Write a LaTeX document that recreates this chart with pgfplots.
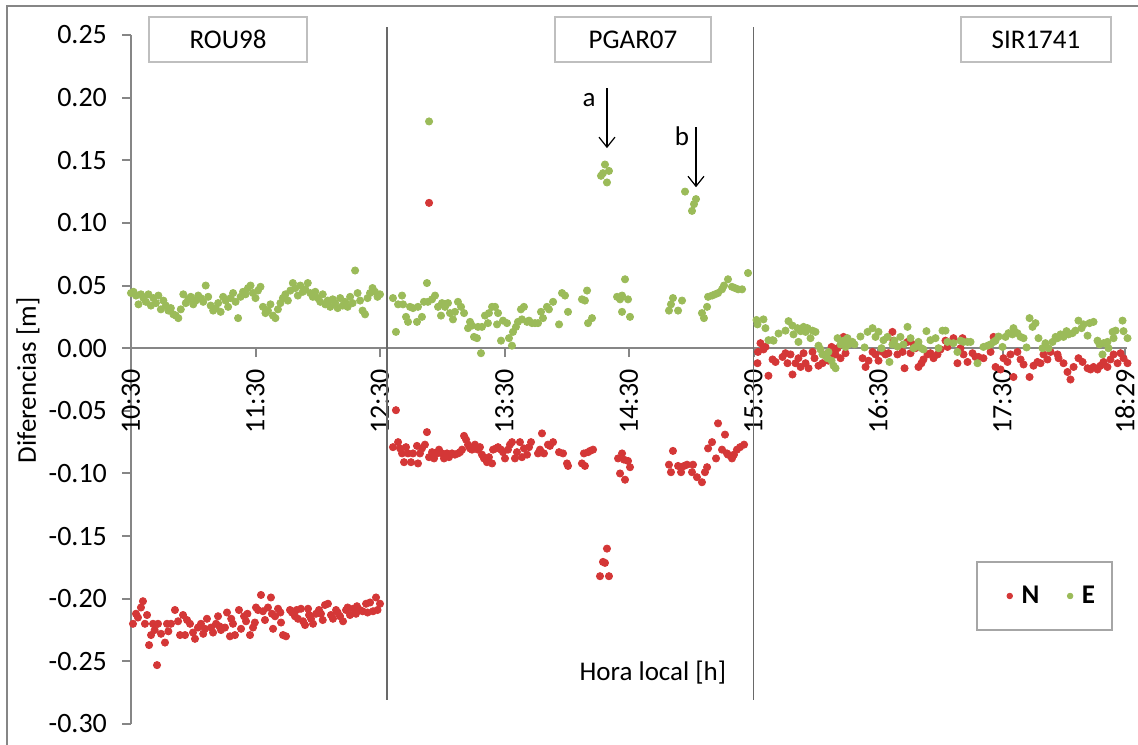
\documentclass[border=0pt]{standalone}
\usepackage{pgfplots}
\pgfplotsset{compat=1.18}
\usepackage{fontspec}
\setmainfont{Carlito}
\usetikzlibrary{arrows.meta}
\definecolor{nred}{RGB}{212,55,55}
\definecolor{egreen}{RGB}{155,187,89}
\definecolor{axgray}{RGB}{134,134,134}
\definecolor{boxgray}{RGB}{191,191,191}
\definecolor{sepgray}{RGB}{105,105,105}
\definecolor{leggray}{RGB}{166,166,166}
\begin{document}
\begin{tikzpicture}
\useasboundingbox (0,0) rectangle (569pt,372pt);
\draw[axgray, line width=0.9pt] (3.5pt,-5pt) rectangle (580pt,369pt);
\begin{axis}[
  at={(65.5pt,10pt)}, anchor=south west,
  scale only axis, width=498pt, height=344.5pt,
  xmin=10.5, xmax=18.5, ymin=-0.30, ymax=0.25,
  axis x line=middle, axis y line=left,
  hide obscured x ticks=false, hide obscured y ticks=false,
  axis line style={draw=axgray, line width=1pt, -},
  every tick/.style={axgray, line width=1pt},
  tick align=outside, major tick length=4.5pt,
  xtick={10.5,11.5,12.5,13.5,14.5,15.5,16.5,17.5,18.4833},
  xticklabels={10:30,11:30,12:30,13:30,14:30,15:30,16:30,17:30,18:29},
  ytick={-0.30,-0.25,-0.20,-0.15,-0.10,-0.05,0,0.05,0.10,0.15,0.20,0.25},
  yticklabels={-0.30,-0.25,-0.20,-0.15,-0.10,-0.05,0.00,0.05,0.10,0.15,0.20,0.25},
  ticklabel style={font=\fontsize{14pt}{16pt}\selectfont, text=black},
  xticklabel style={rotate=90, anchor=east, inner ysep=1pt},
  xticklabel shift=2.5pt,
  yticklabel style={xshift=-4pt},
  clip=false,
  ylabel={Diferencias [m]},
  every axis y label/.style={at={(axis description cs:-0.1034,0.499)}, anchor=center, rotate=90, font=\fontsize{13.5pt}{16pt}\selectfont},
  xlabel={Hora local [h]},
  every axis x label/.style={at={(axis description cs:0.524,0.074)}, anchor=center, font=\fontsize{13.5pt}{16pt}\selectfont},
  legend columns=-1,
  legend style={draw=none, fill=none, at={(axis description cs:0.9257,0.1858)}, anchor=center,
    font=\bfseries\fontsize{13.5pt}{16pt}\selectfont,
    /tikz/every odd column/.append style={column sep=2.5pt},
    /tikz/every even column/.append style={column sep=12pt}},
  legend image code/.code={\draw[#1, mark size=1.4pt] plot coordinates {(0pt,0pt)};},
]
% ---------------- N (red) ----------------
\addplot[only marks, mark=*, mark size=1.8pt, color=nred, draw=nred, fill=nred] table {
10.516 -0.220
10.540 -0.212
10.556 -0.215
10.580 -0.207
10.596 -0.202
10.612 -0.220
10.629 -0.213
10.645 -0.237
10.661 -0.229
10.677 -0.220
10.690 -0.225
10.709 -0.253
10.717 -0.220
10.741 -0.228
10.773 -0.235
10.789 -0.220
10.800 -0.226
10.821 -0.220
10.853 -0.209
10.878 -0.218
10.894 -0.229
10.918 -0.213
10.934 -0.229
10.950 -0.217
10.974 -0.220
10.998 -0.227
11.014 -0.232
11.038 -0.223
11.062 -0.220
11.080 -0.228
11.094 -0.224
11.110 -0.216
11.143 -0.223
11.159 -0.227
11.183 -0.220
11.199 -0.214
11.210 -0.222
11.223 -0.225
11.255 -0.223
11.271 -0.211
11.295 -0.230
11.305 -0.216
11.319 -0.220
11.335 -0.229
11.367 -0.209
11.384 -0.224
11.408 -0.214
11.424 -0.218
11.435 -0.212
11.456 -0.229
11.480 -0.223
11.495 -0.219
11.504 -0.207
11.520 -0.209
11.544 -0.197
11.560 -0.210
11.576 -0.217
11.600 -0.207
11.624 -0.199
11.632 -0.212
11.641 -0.224
11.657 -0.214
11.681 -0.208
11.700 -0.211
11.705 -0.219
11.721 -0.229
11.745 -0.230
11.777 -0.209
11.793 -0.211
11.817 -0.214
11.830 -0.209
11.841 -0.216
11.865 -0.208
11.882 -0.218
11.898 -0.221
11.922 -0.208
11.930 -0.213
11.946 -0.216
11.962 -0.220
11.986 -0.212
12.010 -0.209
12.026 -0.212
12.040 -0.217
12.058 -0.205
12.082 -0.204
12.106 -0.213
12.122 -0.216
12.147 -0.209
12.160 -0.211
12.179 -0.214
12.203 -0.218
12.227 -0.209
12.240 -0.207
12.259 -0.213
12.283 -0.208
12.307 -0.212
12.315 -0.206
12.339 -0.209
12.360 -0.210
12.388 -0.204
12.400 -0.211
12.420 -0.203
12.444 -0.210
12.468 -0.199
12.480 -0.209
12.500 -0.204
};
\addlegendentry{N}
\addplot[only marks, mark=*, mark size=1.8pt, color=nred, draw=nred, fill=nred, forget plot] table {
12.604 -0.079
12.628 -0.0495
12.645 -0.075
12.661 -0.080
12.677 -0.084
12.693 -0.091
12.709 -0.079
12.725 -0.084
12.749 -0.091
12.765 -0.084
12.797 -0.078
12.805 -0.092
12.821 -0.084
12.837 -0.080
12.861 -0.077
12.877 -0.067
12.894 0.116
12.894 -0.087
12.918 -0.083
12.934 -0.088
12.958 -0.084
12.974 -0.081
12.998 -0.084
13.014 -0.088
13.038 -0.084
13.054 -0.087
13.078 -0.084
13.102 -0.085
13.126 -0.084
13.143 -0.083
13.159 -0.081
13.175 -0.070
13.191 -0.073
13.207 -0.077
13.223 -0.080
13.239 -0.081
13.263 -0.077
13.287 -0.081
13.303 -0.079
13.319 -0.085
13.335 -0.088
13.359 -0.091
13.375 -0.087
13.400 -0.092
13.408 -0.081
13.432 -0.080
13.448 -0.079
13.472 -0.081
13.488 -0.083
13.504 -0.088
13.528 -0.081
13.544 -0.077
13.560 -0.075
13.584 -0.088
13.600 -0.083
13.624 -0.075
13.640 -0.087
13.656 -0.080
13.681 -0.085
13.697 -0.079
13.713 -0.075
13.769 -0.084
13.785 -0.081
13.801 -0.068
13.817 -0.084
13.849 -0.077
13.865 -0.078
13.890 -0.075
13.938 -0.083
13.970 -0.084
14.002 -0.092
14.010 -0.094
14.122 -0.092
14.138 -0.084
14.146 -0.094
14.171 -0.083
14.187 -0.082
14.211 -0.081
14.267 -0.182
14.291 -0.1706
14.307 -0.1714
14.323 -0.160
14.339 -0.182
14.412 -0.088
14.428 -0.100
14.444 -0.084
14.460 -0.089
14.468 -0.105
14.492 -0.090
14.508 -0.095
14.821 -0.093
14.837 -0.099
14.853 -0.082
14.894 -0.094
14.918 -0.099
14.942 -0.094
14.966 -0.093
15.006 -0.099
15.014 -0.093
15.046 -0.103
15.086 -0.107
15.110 -0.099
15.127 -0.095
15.135 -0.080
15.167 -0.075
15.199 -0.088
15.215 -0.060
15.247 -0.081
15.271 -0.069
15.287 -0.084
15.295 -0.085
15.327 -0.088
15.343 -0.085
15.367 -0.081
15.392 -0.079
15.424 -0.077
};
\addplot[only marks, mark=*, mark size=1.8pt, color=nred, draw=nred, fill=nred, forget plot] table {
15.532 -0.012
15.536 -0.003
15.556 0.004
15.580 -0.001
15.596 0.001
15.620 -0.022
15.653 -0.009
15.677 -0.011
15.733 -0.007
15.757 -0.004
15.773 -0.012
15.797 -0.005
15.813 -0.021
15.837 -0.012
15.861 -0.008
15.878 -0.015
15.902 -0.004
15.918 -0.012
15.942 -0.016
15.974 -0.003
15.990 -0.008
16.022 -0.014
16.054 -0.012
16.078 -0.005
16.102 -0.010
16.127 0.001
16.135 -0.004
16.159 -0.005
16.175 0.000
16.199 -0.008
16.223 0.009
16.239 -0.004
16.376 -0.008
16.400 -0.015
16.424 -0.010
16.456 -0.003
16.480 -0.005
16.504 -0.010
16.536 -0.003
16.560 -0.005
16.584 -0.004
16.616 0.013
16.624 0.006
16.656 -0.005
16.697 -0.003
16.713 -0.016
16.737 0.005
16.761 -0.004
16.785 0.003
16.801 0.000
16.825 -0.015
16.849 -0.012
16.865 -0.009
16.898 -0.005
16.921 -0.004
16.946 -0.008
16.978 -0.005
17.002 -0.001
17.042 0.006
17.058 0.001
17.106 0.008
17.138 -0.012
17.163 0.000
17.179 0.008
17.187 -0.005
17.219 -0.011
17.259 -0.004
17.283 -0.007
17.307 -0.007
17.347 -0.008
17.404 -0.003
17.428 0.009
17.444 -0.015
17.484 -0.017
17.508 -0.008
17.540 -0.011
17.564 -0.005
17.588 -0.023
17.620 -0.003
17.645 -0.009
17.669 -0.013
17.717 -0.023
17.749 -0.014
17.781 -0.011
17.805 -0.012
17.829 -0.005
17.861 -0.009
17.886 -0.003
17.942 -0.005
17.950 -0.008
17.990 -0.012
18.022 -0.019
18.046 -0.025
18.071 -0.015
18.110 -0.008
18.143 -0.011
18.183 -0.016
18.207 -0.017
18.231 -0.015
18.263 -0.017
18.287 -0.014
18.311 -0.011
18.343 -0.015
18.367 -0.009
18.392 -0.005
18.424 -0.012
18.448 -0.004
18.472 -0.008
18.504 -0.012
};
% ---------------- E (green) ----------------
\addplot[only marks, mark=*, mark size=1.8pt, color=egreen, draw=egreen, fill=egreen] table {
10.50 0.044
10.52 0.045
10.54 0.042
10.56 0.035
10.58 0.043
10.60 0.040
10.62 0.037
10.64 0.043
10.66 0.034
10.68 0.040
10.70 0.036
10.72 0.042
10.74 0.031
10.76 0.038
10.78 0.034
10.80 0.030
10.82 0.032
10.84 0.027
10.86 0.026
10.88 0.024
10.90 0.031
10.92 0.043
10.94 0.036
10.96 0.039
10.98 0.041
11.00 0.035
11.02 0.038
11.04 0.042
11.06 0.040
11.08 0.037
11.10 0.050
11.12 0.041
11.14 0.034
11.16 0.030
11.18 0.032
11.20 0.036
11.22 0.029
11.24 0.041
11.26 0.038
11.28 0.033
11.30 0.040
11.32 0.044
11.34 0.037
11.36 0.024
11.38 0.041
11.40 0.045
11.42 0.043
11.44 0.048
11.46 0.050
11.48 0.044
11.50 0.040
11.52 0.046
11.54 0.049
11.56 0.033
11.58 0.028
11.60 0.030
11.62 0.035
11.64 0.026
11.66 0.024
11.68 0.031
11.70 0.036
11.72 0.040
11.74 0.043
11.76 0.038
11.78 0.046
11.80 0.052
11.82 0.048
11.84 0.042
11.86 0.050
11.88 0.045
11.90 0.047
11.92 0.052
11.94 0.044
11.96 0.041
11.98 0.045
12.00 0.040
12.02 0.037
12.04 0.043
12.06 0.035
12.08 0.038
12.10 0.033
12.12 0.039
12.14 0.036
12.16 0.032
12.18 0.040
12.20 0.034
12.22 0.037
12.24 0.033
12.26 0.041
12.28 0.036
12.30 0.062
12.32 0.044
12.34 0.038
12.36 0.030
12.38 0.027
12.40 0.040
12.42 0.044
12.44 0.048
12.46 0.045
12.48 0.041
12.50 0.043
};
\addlegendentry{E}
\addplot[only marks, mark=*, mark size=1.8pt, color=egreen, draw=egreen, fill=egreen, forget plot] table {
12.604 0.040
12.628 0.013
12.645 0.035
12.677 0.042
12.685 0.035
12.709 0.025
12.725 0.021
12.741 0.033
12.765 0.032
12.797 0.021
12.805 0.033
12.837 0.025
12.853 0.037
12.877 0.052
12.885 0.037
12.894 0.181
12.918 0.039
12.942 0.042
12.966 0.033
12.990 0.026
12.998 0.036
13.022 0.033
13.046 0.036
13.062 0.028
13.086 0.023
13.102 0.029
13.126 0.037
13.151 0.033
13.175 0.028
13.207 0.016
13.223 0.021
13.239 0.018
13.255 0.009
13.279 0.008
13.287 0.017
13.311 -0.004
13.319 0.017
13.343 0.026
13.367 0.020
13.375 0.028
13.400 0.033
13.424 0.033
13.440 0.019
13.448 0.028
13.472 0.006
13.488 0.022
13.520 0.020
13.536 0.008
13.560 0.002
13.568 0.013
13.592 0.017
13.608 0.021
13.632 0.031
13.640 0.023
13.656 0.033
13.681 0.021
13.697 0.022
13.721 0.020
13.745 0.020
13.769 0.020
13.793 0.029
13.809 0.024
13.841 0.033
13.857 0.031
13.890 0.037
13.938 0.019
13.962 0.044
13.986 0.042
14.010 0.029
14.122 0.039
14.146 0.038
14.163 0.046
14.171 0.020
14.203 0.024
14.275 0.1376
14.291 0.1397
14.307 0.1466
14.323 0.1323
14.339 0.1415
14.404 0.041
14.428 0.039
14.444 0.042
14.444 0.029
14.468 0.055
14.492 0.039
14.508 0.025
14.821 0.030
14.837 0.035
14.853 0.040
14.894 0.030
14.926 0.038
14.950 0.125
15.006 0.1096
15.022 0.115
15.038 0.119
15.086 0.028
15.102 0.024
15.127 0.033
15.135 0.041
15.167 0.042
15.191 0.043
15.215 0.044
15.247 0.047
15.263 0.050
15.295 0.055
15.327 0.049
15.351 0.048
15.376 0.047
15.408 0.047
15.456 0.060
};
\addplot[only marks, mark=*, mark size=1.8pt, color=egreen, draw=egreen, fill=egreen, forget plot] table {
15.524 0.0225
15.532 0.019
15.580 0.023
15.596 0.016
15.620 0.0064
15.653 0.0064
15.661 0.006
15.701 0.0117
15.757 0.014
15.781 0.0216
15.813 0.018
15.821 0.011
15.853 0.016
15.861 0.005
15.878 0.0136
15.902 0.017
15.918 0.013
15.934 0.016
15.958 0.008
15.974 0.014
15.998 0.013
16.022 0.002
16.038 -0.001
16.054 -0.005
16.078 -0.006
16.094 -0.008
16.102 -0.003
16.127 -0.010
16.143 -0.014
16.159 -0.016
16.175 0.008
16.199 0.003
16.223 0.006
16.239 0.001
16.255 0.008
16.263 0.003
16.295 0.005
16.311 0.003
16.359 0.0093
16.392 0.0006
16.416 0.013
16.456 0.016
16.480 0.009
16.504 0.013
16.528 0.000
16.544 0.0064
16.576 0.009
16.592 -0.011
16.616 0.003
16.632 0.006
16.656 0.0013
16.680 0.009
16.705 0.003
16.737 0.017
16.761 0.008
16.785 0.000
16.801 0.001
16.825 0.005
16.849 0.000
16.865 -0.001
16.889 0.0136
16.921 0.0064
16.962 0.008
16.986 0.000
17.018 0.014
17.042 0.014
17.058 0.005
17.106 0.004
17.138 -0.003
17.163 0.006
17.187 0.005
17.219 0.005
17.243 0.005
17.299 -0.012
17.347 0.001
17.380 0.002
17.404 0.003
17.428 0.005
17.444 0.006
17.468 0.0093
17.500 0.001
17.524 0.009
17.548 0.012
17.580 0.011
17.588 0.016
17.620 0.012
17.645 0.009
17.669 0.008
17.693 0.0006
17.717 0.024
17.741 0.017
17.765 0.020
17.789 0.008
17.821 0.000
17.845 0.004
17.870 0.000
17.902 0.005
17.926 0.009
17.942 0.008
17.966 0.011
17.990 0.009
18.014 0.0136
18.030 0.011
18.062 0.012
18.086 0.014
18.110 0.022
18.135 0.016
18.151 0.019
18.183 0.010
18.199 0.020
18.231 0.021
18.263 0.006
18.279 0.003
18.303 -0.005
18.311 0.004
18.343 0.005
18.351 0.000
18.384 0.013
18.392 0.008
18.408 0.014
18.464 0.022
18.472 0.0136
18.504 0.008
};
% separators
\draw[sepgray, line width=0.7pt] (axis cs:12.555,0.2562) -- (axis cs:12.555,-0.281);
\draw[sepgray, line width=0.7pt] (axis cs:15.5,0.2562) -- (axis cs:15.5,-0.281);
% station boxes
\node[draw=boxgray, line width=0.8pt, fill=white, minimum width=79pt, minimum height=22.5pt, inner sep=0pt, font=\fontsize{13.5pt}{16pt}\selectfont] at (axis description cs:0.0974,0.9935) {ROU98};
\node[draw=boxgray, line width=0.8pt, fill=white, minimum width=78pt, minimum height=22.5pt, inner sep=0pt, font=\fontsize{13.5pt}{16pt}\selectfont] at (axis description cs:0.504,0.9935) {PGAR07};
\node[draw=boxgray, line width=0.8pt, fill=white, minimum width=75pt, minimum height=22.5pt, inner sep=0pt, font=\fontsize{13.5pt}{16pt}\selectfont] at (axis description cs:0.9086,0.9935) {SIR1741};
% annotations
\draw[black, line width=0.6pt, -{Straight Barb[length=5pt,width=8pt]}] (axis cs:14.323,0.2075) -- (axis cs:14.323,0.1597);
\draw[black, line width=0.6pt, -{Straight Barb[length=5pt,width=8pt]}] (axis cs:15.038,0.1764) -- (axis cs:15.038,0.1285);
\node[font=\fontsize{13.5pt}{16pt}\selectfont] at (axis cs:14.179,0.198) {a};
\node[font=\fontsize{13.5pt}{16pt}\selectfont] at (axis cs:14.926,0.169) {b};
% legend frame
\draw[leggray, line width=1pt] (axis description cs:0.8494,0.1364) rectangle (axis description cs:0.9849,0.2351);
\end{axis}
\end{tikzpicture}
\end{document}
